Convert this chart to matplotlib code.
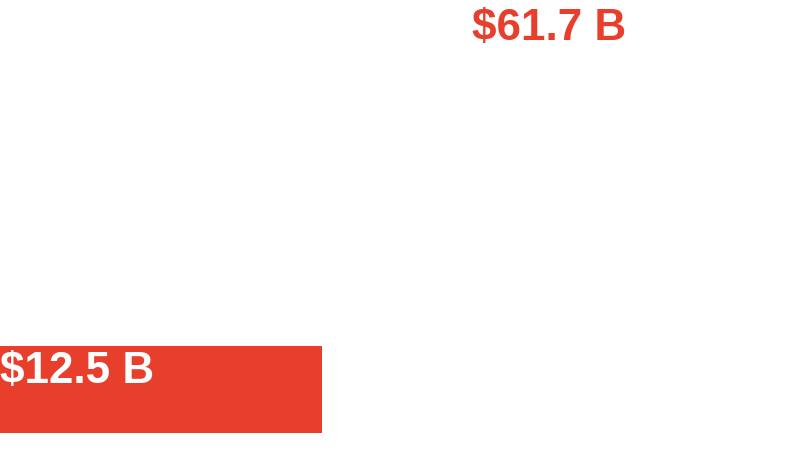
import matplotlib
matplotlib.use("Agg")
import matplotlib.pyplot as plt

# values in billions of dollars
categories = ["A", "B"]
values = [12.5, 61.7]
labels = ["$12.5 B", "$61.7 B"]

RED = "#E83E2C"
BAR_COLORS = [RED, "white"]
LABEL_COLORS = ["white", RED]
BAR_W = 322 / 472

fig = plt.figure(figsize=(7.94, 4.66), dpi=100)
ax = fig.add_axes([0, 33 / 466, 1, 433 / 466])

xs = list(range(len(categories)))
ax.bar(xs, values, width=BAR_W, align="edge", color=BAR_COLORS, linewidth=0)

for x, v, lab, c in zip(xs, values, labels, LABEL_COLORS):
    ax.annotate(lab, (x, v), xytext=(0, -3.5), textcoords="offset points",
                ha="left", va="top", color=c, fontsize=31.7,
                fontweight="bold", family="Liberation Sans")

ax.set_xlim(0, len(categories) - 1 + BAR_W)
ax.set_ylim(0, 12.5 * 433 / 87)
ax.axis("off")

fig.savefig("out.png", dpi=100)
